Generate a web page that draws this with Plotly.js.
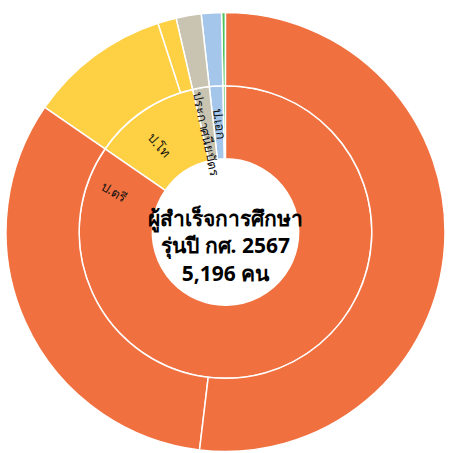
<!DOCTYPE html>
<html>
<head>
<meta charset="utf-8">
<script src="https://cdn.plot.ly/plotly-3.0.1.min.js"></script>
<style>html,body{margin:0;padding:0;background:#fff;}#chart{width:450px;height:453px;}</style>
</head>
<body>
<div id="chart"></div>
<script>
// ---- data (listed in the counter-clockwise drawing order, starting at 12 o'clock) ----
const ids = ["root",
  "other", "doctor", "certificate", "master", "bachelor",
  "other-1", "doctor-1", "certificate-1", "master-2", "master-1", "bachelor-2", "bachelor-1"];
const labels = ["ผู้สำเร็จการศึกษา",
  "อื่น ๆ", "ป.เอก", "ประกาศนียบัตร", "ป.โท", "ป.ตรี",
  "อื่น ๆ กลุ่ม 1", "ป.เอก กลุ่ม 1", "ประกาศนียบัตร กลุ่ม 1", "ป.โท กลุ่ม 2", "ป.โท กลุ่ม 1", "ป.ตรี กลุ่ม 2", "ป.ตรี กลุ่ม 1"];
const parents = ["",
  "root", "root", "root", "root", "root",
  "other", "doctor", "certificate", "master", "master", "bachelor", "bachelor"];
const values = [5196,
  15, 77, 96, 612, 4396,
  15, 77, 96, 71, 541, 1700, 2696];
const sectorColors = ["#FFFFFF",
  "#4CC35A", "#A3C6EA", "#C8C4B1", "#FED043", "#F0703F",
  "#4CC35A", "#A3C6EA", "#C8C4B1", "#FED043", "#FED043", "#F0703F", "#F0703F"];
const centerTitle = "ผู้สำเร็จการศึกษา<br>รุ่นปี กศ. 2567<br>5,196 คน";
// ring labels written on the inner ring
const ringLabels = ["ป.ตรี", "ป.โท", "ประกาศนียบัตร", "ป.เอก"];

const trace = {
  type: "sunburst",
  ids: ids,
  labels: labels,
  parents: parents,
  values: values,
  branchvalues: "total",
  sort: false,
  rotation: 90,
  textinfo: "none",
  marker: {colors: sectorColors, line: {color: "#FFFFFF", width: 1.5}},
  leaf: {opacity: 1},
  hoverinfo: "label+value"
};

const labelFont = {family: "Noto Sans, sans-serif", size: 13, color: "#111"};
// placement (paper coords) and angle of each ring label
const labelPlace = [
  {x: 0.245, y: 0.593, a: 32},
  {x: 0.349, y: 0.698, a: 48},
  {x: 0.457, y: 0.723, a: 78},
  {x: 0.486, y: 0.747, a: 84}
];

const annotations = [
  {text: "<b>" + centerTitle + "</b>", x: 0.501, y: 0.47, xref: "paper", yref: "paper",
   xanchor: "center", yanchor: "middle",
   showarrow: false, font: {family: "Noto Sans, sans-serif", size: 21, color: "#000"}}
];
ringLabels.forEach((t, i) => {
  annotations.push({text: t, x: labelPlace[i].x, y: labelPlace[i].y, xref: "paper", yref: "paper",
    xanchor: "center", yanchor: "middle", showarrow: false, textangle: labelPlace[i].a, font: labelFont});
});

const layout = {
  width: 450, height: 453,
  margin: {l: 5.5, r: 4.5, t: 12, b: 1},
  paper_bgcolor: "#FFFFFF",
  showlegend: false,
  annotations: annotations
};

Plotly.newPlot("chart", [trace], layout, {displayModeBar: false, responsive: false});
</script>
</body>
</html>
